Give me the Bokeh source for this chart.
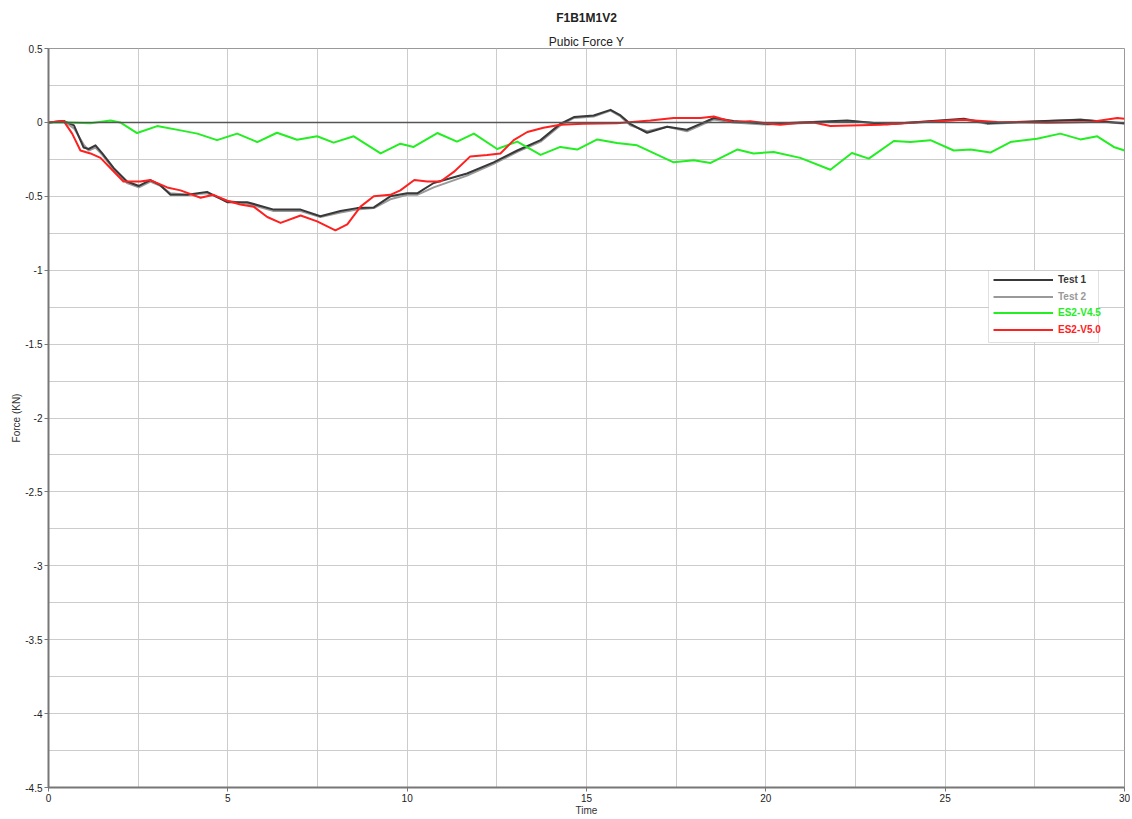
from bokeh.plotting import figure
from bokeh.models import (Range1d, FixedTicker, CustomJSTickFormatter, Span, Title,
                          Legend, LegendItem, BoxAnnotation)
from bokeh.embed import file_html
from bokeh.resources import INLINE

# ---------------- data ----------------
test_time = [0, 0.42, 0.71, 0.98, 1.12, 1.31, 1.5, 1.82, 2.19, 2.52,
             2.84, 3.12, 3.4, 3.87, 4.42, 4.98, 5.54, 6.28, 7.03, 7.58,
             8.14, 8.6, 9.07, 9.53, 10.0, 10.28, 10.74, 11.67, 12.41, 13.07,
             13.72, 14.27, 14.65, 15.2, 15.67, 15.95, 16.22, 16.69, 17.25, 17.8,
             18.18, 18.55, 19.1, 20.04, 20.96, 22.27, 23.38, 25.52, 26.17, 28.77, 30]
test1_force = [0, 0.01, -0.02, -0.17, -0.18, -0.155, -0.21, -0.31, -0.40, -0.43,
               -0.39, -0.425, -0.49, -0.49, -0.47, -0.54, -0.54, -0.59, -0.59, -0.635,
               -0.60, -0.58, -0.575, -0.50, -0.48, -0.48, -0.41, -0.346, -0.27, -0.19,
               -0.12, -0.01, 0.036, 0.047, 0.085, 0.047, -0.01, -0.07, -0.03, -0.05,
               -0.01, 0.03, 0.01, -0.01, 0.0, 0.013, -0.013, 0.025, -0.005, 0.018, -0.005]
test2_force = [0, 0.01, -0.04, -0.15, -0.19, -0.17, -0.22, -0.32, -0.41, -0.44,
               -0.40, -0.43, -0.48, -0.49, -0.48, -0.53, -0.55, -0.60, -0.60, -0.64,
               -0.61, -0.59, -0.58, -0.52, -0.49, -0.49, -0.44, -0.36, -0.28, -0.20,
               -0.13, -0.02, 0.03, 0.04, 0.08, 0.04, -0.02, -0.06, -0.03, -0.06,
               -0.02, 0.02, 0.0, -0.015, -0.005, 0.01, -0.01, 0.02, -0.01, 0.02, -0.01]

v45_time = [0, 0.52, 1.17, 1.73, 2.0, 2.47, 3.03, 3.68, 4.15, 4.7,
            5.26, 5.82, 6.37, 6.93, 7.49, 7.95, 8.51, 9.26, 9.81, 10.18,
            10.84, 11.39, 11.86, 12.51, 13.07, 13.72, 14.27, 14.74, 15.3, 15.85,
            16.41, 17.43, 17.99, 18.46, 19.2, 19.66, 20.22, 20.96, 21.8, 22.4,
            22.87, 23.57, 24.03, 24.59, 25.24, 25.71, 26.26, 26.82, 27.56, 28.21,
            28.77, 29.24, 29.7, 30]
v45_force = [0, 0, -0.005, 0.013, 0.0, -0.072, -0.025, -0.054, -0.076, -0.12,
             -0.076, -0.133, -0.07, -0.117, -0.094, -0.137, -0.094, -0.21, -0.144, -0.166,
             -0.072, -0.13, -0.076, -0.18, -0.13, -0.22, -0.166, -0.184, -0.115, -0.14,
             -0.155, -0.27, -0.256, -0.274, -0.184, -0.21, -0.20, -0.24, -0.32, -0.207,
             -0.245, -0.126, -0.133, -0.12, -0.19, -0.184, -0.204, -0.133, -0.11, -0.076,
             -0.115, -0.094, -0.166, -0.19]

v50_time = [0, 0.42, 0.66, 0.89, 1.17, 1.45, 1.73, 2.09, 2.56, 2.84,
            3.31, 3.68, 4.24, 4.6, 4.98, 5.35, 5.72, 6.1, 6.47, 7.03,
            7.49, 8.0, 8.33, 8.7, 9.07, 9.53, 9.81, 10.2, 10.56, 10.93,
            11.3, 11.76, 12.23, 12.6, 12.97, 13.35, 13.8, 14.27, 14.92, 15.85,
            16.78, 17.43, 18.18, 18.55, 19.1, 19.57, 20.13, 20.4, 20.96, 21.33,
            21.8, 23.2, 24.1, 25.5, 26.45, 27.84, 29.05, 29.8, 30]
v50_force = [0, 0.01, -0.076, -0.19, -0.21, -0.24, -0.31, -0.40, -0.40, -0.39,
             -0.44, -0.46, -0.51, -0.49, -0.53, -0.555, -0.57, -0.64, -0.68, -0.63,
             -0.67, -0.73, -0.69, -0.57, -0.50, -0.49, -0.46, -0.39, -0.40, -0.40,
             -0.335, -0.23, -0.22, -0.21, -0.12, -0.065, -0.036, -0.016, -0.009, -0.005,
             0.013, 0.03, 0.03, 0.04, 0.002, 0.007, -0.009, -0.016, -0.002, 0.0,
             -0.025, -0.016, -0.002, 0.018, 0.002, -0.002, 0.002, 0.03, 0.025]

series_names = ["Test 1", "Test 2", "ES2-V4.5", "ES2-V5.0"]
series_colors = ["#383838", "#999999", "#22ee22", "#ff2020"]

x_ticks = [0, 5, 10, 15, 20, 25, 30]
y_ticks = [0.5, 0, -0.5, -1, -1.5, -2, -2.5, -3, -3.5, -4, -4.5]
x_grid = [2.5 * i for i in range(13)]
y_grid = [0.5 - 0.25 * i for i in range(21)]

main_title = "F1B1M1V2"
sub_title = "Pubic Force Y"

FONT = "Liberation Sans"

# ---------------- figure ----------------
p = figure(width=1130, height=818, x_range=Range1d(0, 30), y_range=Range1d(-4.5, 0.5),
           output_backend="svg", toolbar_location=None,
           min_border_left=48, min_border_right=6, min_border_top=48, min_border_bottom=0)

# titles: p.title is outermost, added Title sits next to the plot
p.title.text = main_title
p.title.align = "center"
p.title.vertical_align = "top"
p.title.text_font = FONT
p.title.text_font_size = "12px"
p.title.text_font_style = "bold"
p.title.text_color = "#222222"
p.title.standoff = 12
p.add_layout(Title(text=sub_title, align="center", text_font=FONT, text_font_size="12px",
                   text_font_style="normal", text_color="#222222", standoff=0), "above")

p.background_fill_color = "white"
p.outline_line_color = "#999999"
p.outline_line_width = 1

p.xgrid.ticker = FixedTicker(ticks=x_grid)
p.ygrid.ticker = FixedTicker(ticks=y_grid)
for g in (p.xgrid, p.ygrid):
    g.grid_line_color = "#cccccc"
    g.grid_line_width = 1

fmt = CustomJSTickFormatter(code="return tick.toString()")
p.xaxis.ticker = FixedTicker(ticks=x_ticks)
p.yaxis.ticker = FixedTicker(ticks=y_ticks)
for ax in (p.xaxis, p.yaxis):
    ax.formatter = fmt
    ax.axis_line_color = "#777777"
    ax.axis_line_width = 2
    ax.major_tick_line_color = "#777777"
    ax.major_tick_out = 4
    ax.major_tick_in = 0
    ax.minor_tick_line_color = None
    ax.major_label_text_font = FONT
    ax.major_label_text_font_size = "10px"
    ax.major_label_text_color = "#222222"
    ax.major_label_standoff = 2
    ax.axis_label_text_font = FONT
    ax.axis_label_text_font_size = "10px"
    ax.axis_label_text_font_style = "normal"
    ax.axis_label_text_color = "#333333"
    ax.axis_label_standoff = 0
p.xaxis.axis_label = "Time"
p.yaxis.axis_label = "Force (KN)"

p.add_layout(Span(location=0, dimension="width", line_color="#555555", line_width=1.5))

r_t2 = p.line(test_time, test2_force, line_color=series_colors[1], line_width=2, line_join="round")
r_t1 = p.line(test_time, test1_force, line_color=series_colors[0], line_width=2, line_join="round")
r_g = p.line(v45_time, v45_force, line_color=series_colors[2], line_width=2, line_join="round")
r_r = p.line(v50_time, v50_force, line_color=series_colors[3], line_width=2, line_join="round")
renderers = [r_t1, r_t2, r_g, r_r]

# legend frame
p.add_layout(BoxAnnotation(left=940, right=1050, bottom=445, top=517,
                           left_units="screen", right_units="screen",
                           bottom_units="screen", top_units="screen",
                           fill_color="white", fill_alpha=1.0,
                           line_color="#999999", line_width=1))

row_bottoms = [499, 482, 466, 449]
for name, col, r, yb in zip(series_names, series_colors, renderers, row_bottoms):
    lg = Legend(items=[LegendItem(label=name, renderers=[r])],
                location=(945, yb), orientation="vertical",
                padding=0, margin=0, spacing=0,
                glyph_width=60, glyph_height=17, label_height=17, label_standoff=5,
                label_text_font=FONT, label_text_font_size="10px",
                label_text_font_style="bold", label_text_color=col,
                background_fill_alpha=0, border_line_alpha=0)
    p.add_layout(lg)

open("out.html", "w").write(file_html(p, INLINE))
